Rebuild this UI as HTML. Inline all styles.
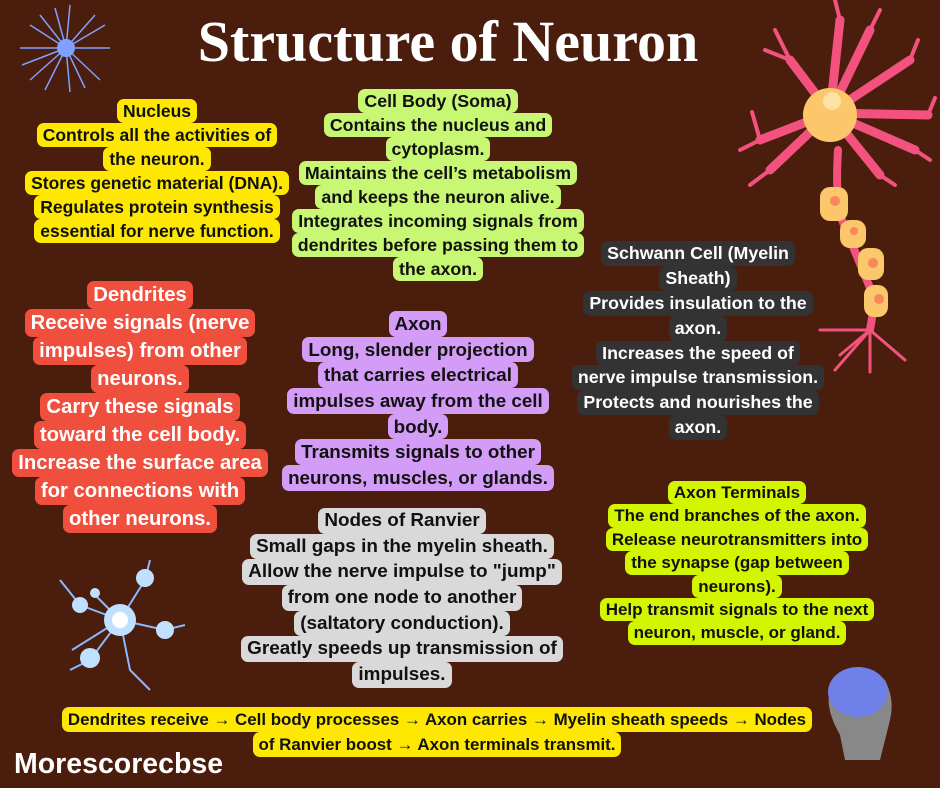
<!DOCTYPE html>
<html><head><meta charset="utf-8"><style>
*{margin:0;padding:0;box-sizing:border-box}
body{width:940px;height:788px;background:#4a1d0d;position:relative;overflow:hidden;font-family:"Liberation Sans",sans-serif;font-weight:bold}
.b{position:absolute;width:440px;text-align:center}
.b div{height:var(--lh)}
.b span{display:inline-block;height:var(--lh);line-height:var(--lh);padding:0 6px;border-radius:7px;background:var(--bg);color:var(--c);white-space:nowrap}
h1{position:absolute;left:0;width:896px;text-align:center;top:8px;font-family:"Liberation Serif",serif;font-size:58px;color:#fff;font-weight:bold}
</style></head><body>
<svg width="940" height="788" style="position:absolute;left:0;top:0">
<g stroke="#7fa0ff" stroke-width="1.5" fill="none">
<path d="M66 48 L40 15 M66 48 L70 5 M66 48 L95 15 M66 48 L110 48 M66 48 L100 80 M66 48 L70 92 M66 48 L30 80 M66 48 L20 48 M66 48 L30 25 M66 48 L55 8 M66 48 L85 88 M66 48 L105 25 M66 48 L45 90 M66 48 L22 65"/>
</g>
<circle cx="66" cy="48" r="9" fill="#7fa0ff"/>
<g stroke="#f3527e" stroke-linecap="round" fill="none">
<path d="M830 113 L760 140 M830 113 L790 60 M830 113 L840 20 M830 113 L870 30 M830 113 L910 60 M830 113 L928 115 M830 113 L915 150 M830 113 L880 175 M830 113 L770 170" stroke-width="9"/>
<path d="M760 140 L740 150 M760 140 L752 112 M790 60 L775 30 M790 60 L765 50 M840 20 L835 0 M870 30 L880 10 M910 60 L918 40 M928 115 L935 98 M915 150 L930 160 M880 175 L895 185 M770 170 L750 185" stroke-width="4"/>
<path d="M838 150 Q835 200 842 220 L875 300 L870 330" stroke-width="8"/>
<path d="M870 330 L820 330 M870 330 L835 370 M870 330 L870 372 M870 330 L905 360 M870 330 L840 355" stroke-width="3"/>
</g>
<circle cx="830" cy="115" r="27" fill="#fbc76a"/>
<circle cx="832" cy="101" r="9" fill="#fde2a3"/>
<g fill="#fbc76a"><rect x="820" y="187" width="28" height="34" rx="10"/><rect x="840" y="220" width="26" height="28" rx="10"/><rect x="858" y="248" width="26" height="32" rx="10"/><rect x="864" y="285" width="24" height="32" rx="10"/></g>
<g fill="#f8875a"><circle cx="835" cy="201" r="5"/><circle cx="854" cy="231" r="4"/><circle cx="873" cy="263" r="5"/><circle cx="879" cy="299" r="5"/></g>
<g stroke="#8ab8ff" stroke-width="2" fill="none"><path d="M120 620 L80 605 L60 580 M120 620 L145 580 L150 560 M120 620 L165 630 L185 625 M120 620 L90 660 L70 670 M120 620 L95 595 M120 620 L130 670 L150 690 M120 620 L72 650"/></g>
<g fill="#bfe0ff"><circle cx="120" cy="620" r="16"/><circle cx="80" cy="605" r="8"/><circle cx="145" cy="578" r="9"/><circle cx="165" cy="630" r="9"/><circle cx="90" cy="658" r="10"/><circle cx="95" cy="593" r="5"/></g>
<circle cx="120" cy="620" r="8" fill="#fff"/>
<path d="M840 735 Q820 700 835 680 Q860 660 885 680 Q895 700 890 720 L880 760 L845 760 Z" fill="#888"/>
<ellipse cx="858" cy="692" rx="30" ry="25" fill="#6f80e8"/>
</svg>
<h1>Structure of Neuron</h1>

<div class="b" style="left:-63px;top:99px;--lh:24px;--bg:#ffe800;--c:#111;font-size:17.5px">
<div><span>Nucleus</span></div><div><span>Controls all the activities of</span></div><div><span>the neuron.</span></div><div><span>Stores genetic material (DNA).</span></div><div><span>Regulates protein synthesis</span></div><div><span>essential for nerve function.</span></div></div>

<div class="b" style="left:218px;top:89px;--lh:24px;--bg:#c8f773;--c:#111;font-size:17.8px">
<div><span>Cell Body (Soma)</span></div><div><span>Contains the nucleus and</span></div><div><span>cytoplasm.</span></div><div><span>Maintains the cell’s metabolism</span></div><div><span>and keeps the neuron alive.</span></div><div><span>Integrates incoming signals from</span></div><div><span>dendrites before passing them to</span></div><div><span>the axon.</span></div></div>

<div class="b" style="left:478px;top:241px;--lh:24.9px;--bg:#333;--c:#fff;font-size:17.8px">
<div><span>Schwann Cell (Myelin</span></div><div><span>Sheath)</span></div><div><span>Provides insulation to the</span></div><div><span>axon.</span></div><div><span>Increases the speed of</span></div><div><span>nerve impulse transmission.</span></div><div><span>Protects and nourishes the</span></div><div><span>axon.</span></div></div>

<div class="b" style="left:-80px;top:281px;--lh:28px;--bg:#f04f3d;--c:#fff;font-size:20.3px">
<div><span>Dendrites</span></div><div><span>Receive signals (nerve</span></div><div><span>impulses) from other</span></div><div><span>neurons.</span></div><div><span>Carry these signals</span></div><div><span>toward the cell body.</span></div><div><span>Increase the surface area</span></div><div><span>for connections with</span></div><div><span>other neurons.</span></div></div>

<div class="b" style="left:198px;top:311px;--lh:25.7px;--bg:#d39cf6;--c:#111;font-size:18.8px">
<div><span>Axon</span></div><div><span>Long, slender projection</span></div><div><span>that carries electrical</span></div><div><span>impulses away from the cell</span></div><div><span>body.</span></div><div><span>Transmits signals to other</span></div><div><span>neurons, muscles, or glands.</span></div></div>

<div class="b" style="left:182px;top:508px;--lh:25.7px;--bg:#d9d9d9;--c:#111;font-size:18.9px">
<div><span>Nodes of Ranvier</span></div><div><span>Small gaps in the myelin sheath.</span></div><div><span>Allow the nerve impulse to "jump"</span></div><div><span>from one node to another</span></div><div><span>(saltatory conduction).</span></div><div><span>Greatly speeds up transmission of</span></div><div><span>impulses.</span></div></div>

<div class="b" style="left:517px;top:481px;--lh:23.4px;--bg:#d4f500;--c:#111;font-size:17px">
<div><span>Axon Terminals</span></div><div><span>The end branches of the axon.</span></div><div><span>Release neurotransmitters into</span></div><div><span>the synapse (gap between</span></div><div><span>neurons).</span></div><div><span>Help transmit signals to the next</span></div><div><span>neuron, muscle, or gland.</span></div></div>

<div class="b" style="left:37px;width:800px;top:707px;--lh:25px;--bg:#ffe800;--c:#111;font-size:16.9px">
<div><span>Dendrites receive → Cell body processes → Axon carries → Myelin sheath speeds → Nodes</span></div><div><span>of Ranvier boost → Axon terminals transmit.</span></div></div>

<div style="position:absolute;left:14px;top:748px;color:#fff;font-size:28.5px">Morescorecbse</div>
</body></html>
